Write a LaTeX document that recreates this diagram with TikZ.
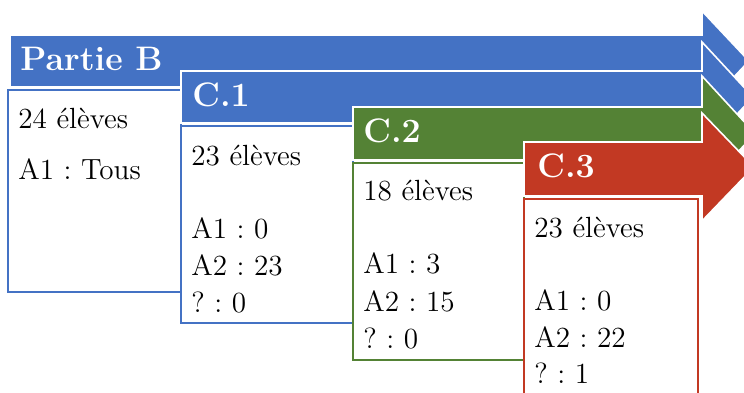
\documentclass[tikz,border=0pt]{standalone}
\definecolor{cblue}{RGB}{68,114,196}
\definecolor{cgreen}{RGB}{84,130,53}
\definecolor{cred}{RGB}{194,57,35}
\frenchspacing
\tikzset{
  band/.style={fill=#1, draw=white, line width=0.8pt, line join=miter},
  infobox/.style={fill=white, draw=#1, line width=1.1pt},
  head/.style={anchor=base west, inner sep=0pt, text=white, font=\fontsize{17}{20}\selectfont\bfseries},
  body/.style={anchor=base west, inner sep=0pt, text=black, font=\fontsize{14.6}{17}\selectfont\frenchspacing},
}
\begin{document}
\begin{tikzpicture}[x=0.5pt,y=-0.5pt]
\useasboundingbox (0,0) rectangle (744,392);
\clip (0,0) rectangle (744,392);
% Partie B
\draw[band=cblue] (10,35) -- (702,35) -- (702,11) -- (749,61) -- (702,111) -- (702,87) -- (10,87) -- cycle;
\draw[infobox=cblue] (8,90) rectangle (181,292);
\node[head] (pb) at (20,70) {Partie B};
\node[body] (pb1) at (18,128) {24 élèves};
\node[body] (pb2) at (18,179) {A1 : Tous};
% C.1
\draw[band=cblue] (181,71) -- (702,71) -- (702,42) -- (753,97) -- (702,152) -- (702,123) -- (181,123) -- cycle;
\draw[infobox=cblue] (181,126) rectangle (353,323);
\node[head] (c1) at (192,106) {C.1};
\node[body] (c1a) at (191,165) {23 élèves};
\node[body] (c1b) at (191,238) {A1 : 0};
\node[body] (c1c) at (191,275) {A2 : 23};
\node[body] (c1d) at (191,312) {? : 0};
% C.2
\draw[band=cgreen] (353,107) -- (702,107) -- (702,76) -- (755,133.5) -- (702,191) -- (702,160) -- (353,160) -- cycle;
\draw[infobox=cgreen] (353,163) rectangle (524,360);
\node[head] (c2) at (363,142) {C.2};
\node[body] (c2a) at (363,200) {18 élèves};
\node[body] (c2b) at (363,273) {A1 : 3};
\node[body] (c2c) at (363,311) {A2 : 15};
\node[body] (c2d) at (363,348) {? : 0};
% C.3
\draw[band=cred] (524,142) -- (702,142) -- (702,113) -- (754,167) -- (702,221) -- (702,196) -- (524,196) -- cycle;
\draw[infobox=cred] (524,199) rectangle (698,410);
\node[head] (c3) at (537,177) {C.3};
\node[body] (c3a) at (534,237) {23 élèves};
\node[body] (c3b) at (534,310) {A1 : 0};
\node[body] (c3c) at (534,347) {A2 : 22};
\node[body] (c3d) at (534,383) {? : 1};
\end{tikzpicture}
\end{document}
